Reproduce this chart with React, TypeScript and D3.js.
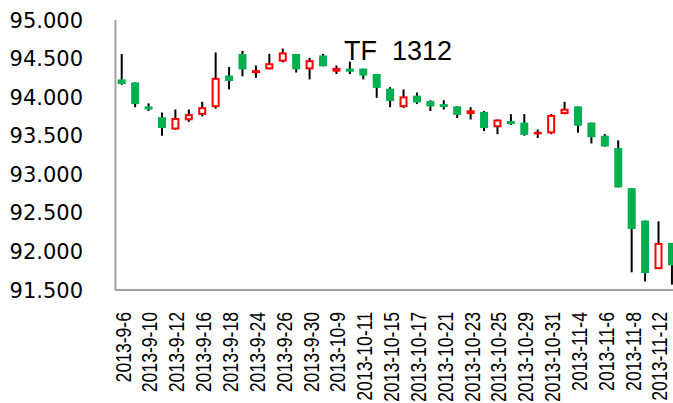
import React from "react";
import * as d3 from "d3";

const dates = [
  "2013-9-6", "2013-9-9", "2013-9-10", "2013-9-11", "2013-9-12", "2013-9-13",
  "2013-9-16", "2013-9-17", "2013-9-18", "2013-9-23", "2013-9-24", "2013-9-25",
  "2013-9-26", "2013-9-27", "2013-9-30", "2013-10-8", "2013-10-9", "2013-10-10",
  "2013-10-11", "2013-10-14", "2013-10-15", "2013-10-16", "2013-10-17", "2013-10-18",
  "2013-10-21", "2013-10-22", "2013-10-23", "2013-10-24", "2013-10-25", "2013-10-28",
  "2013-10-29", "2013-10-30", "2013-10-31", "2013-11-1", "2013-11-4", "2013-11-5",
  "2013-11-6", "2013-11-7", "2013-11-8", "2013-11-11", "2013-11-12", "2013-11-13",
];

const open = [
  94.23, 94.19, 93.88, 93.74, 93.58, 93.7, 93.77, 93.87, 94.28, 94.56, 94.31, 94.36,
  94.46, 94.56, 94.36, 94.54, 94.33, 94.37, 94.37, 94.3, 94.11, 93.87, 94.02, 93.95,
  93.91, 93.88, 93.78, 93.81, 93.61, 93.69, 93.67, 93.52, 93.53, 93.78, 93.88, 93.67,
  93.5, 93.34, 92.82, 92.4, 91.77, 92.11,
];
const high = [
  94.56, 94.19, 93.92, 93.8, 93.84, 93.84, 93.94, 94.58, 94.39, 94.6, 94.41, 94.56,
  94.63, 94.56, 94.51, 94.56, 94.41, 94.46, 94.37, 94.3, 94.13, 94.1, 94.06, 93.96,
  93.96, 93.88, 93.87, 93.82, 93.71, 93.78, 93.78, 93.58, 93.78, 93.94, 93.88, 93.67,
  93.52, 93.44, 92.82, 92.4, 92.39, 92.11,
];
const low = [
  94.16, 93.87, 93.82, 93.5, 93.58, 93.68, 93.75, 93.85, 94.1, 94.27, 94.25, 94.36,
  94.45, 94.32, 94.23, 94.4, 94.3, 94.3, 94.23, 93.99, 93.87, 93.86, 93.91, 93.82,
  93.84, 93.73, 93.71, 93.56, 93.52, 93.64, 93.5, 93.47, 93.52, 93.78, 93.54, 93.4,
  93.36, 92.83, 91.73, 91.61, 91.77, 91.57,
];
const close = [
  94.17, 93.91, 93.84, 93.6, 93.73, 93.78, 93.87, 94.25, 94.21, 94.36, 94.35, 94.44,
  94.58, 94.36, 94.48, 94.4, 94.38, 94.33, 94.28, 94.12, 93.95, 94.01, 93.93, 93.88,
  93.87, 93.77, 93.83, 93.6, 93.71, 93.65, 93.51, 93.55, 93.77, 93.85, 93.63, 93.48,
  93.36, 92.83, 92.29, 91.72, 92.11, 91.82,
];

const yTicks = [91.5, 92, 92.5, 93, 93.5, 94, 94.5, 95];
const title = "TF  1312";

const UP = "#FF0000";
const DOWN = "#00B050";
const AXIS = "#A0A0A0";

export default function App() {
  const width = 673;
  const height = 403;
  const left = 115;
  const bw = 13.42;

  const idx = dates.map((_, i) => i);
  const x = d3
    .scaleBand<number>()
    .domain(idx)
    .range([left, left + bw * dates.length])
    .padding(0);
  const y = d3.scaleLinear().domain([91.5, 95]).range([290, 20]);
  const fmt = d3.format(".3f");

  const bodyW = 8;

  return (
    <svg
      width={width}
      height={height}
      style={{ position: "absolute", left: 0, top: 0, background: "#fff" }}
    >
      {/* axes */}
      <line x1={left + 0.5} x2={left + 0.5} y1={y(95)} y2={y(91.5)} stroke={AXIS} strokeWidth={2} />
      <line x1={left} x2={width} y1={y(91.5)} y2={y(91.5)} stroke={AXIS} strokeWidth={2} />

      {yTicks.map((t) => (
        <text
          key={t}
          x={83}
          y={y(t)}
          dy="0.36em"
          textAnchor="end"
          fontFamily="DejaVu Sans"
          fontSize={21}
          fill="#000"
        >
          {fmt(t)}
        </text>
      ))}

      {dates.map((d, i) =>
        i % 2 === 0 ? (
          <text
            key={d}
            transform={`translate(${x(i)! + bw / 2 + 1},312) rotate(-90) scale(0.8,1)`}
            dy="0.36em"
            textAnchor="end"
            fontFamily="Liberation Sans"
            fontSize={22}
            fill="#000"
          >
            {d}
          </text>
        ) : null
      )}

      {idx.map((i) => {
        const cx = x(i)! + bw / 2;
        const up = close[i] >= open[i];
        const top = y(Math.max(open[i], close[i]));
        const bot = y(Math.min(open[i], close[i]));
        return (
          <g key={i}>
            <line x1={cx} x2={cx} y1={y(high[i])} y2={y(low[i])} stroke="#000" strokeWidth={2} />
            {up ? (
              <rect
                x={cx - bodyW / 2 + 1}
                y={top + 1}
                width={bodyW - 2}
                height={Math.max(bot - top - 2, 0.5)}
                fill="#fff"
                stroke={UP}
                strokeWidth={2}
              />
            ) : (
              <rect
                x={cx - bodyW / 2}
                y={top}
                width={bodyW}
                height={Math.max(bot - top, 2)}
                fill={DOWN}
              />
            )}
          </g>
        );
      })}

      <text
        x={344}
        y={59.5}
        fontFamily="Liberation Sans"
        fontSize={27}
        fill="#000"
        style={{ whiteSpace: "pre" }}
      >
        {title}
      </text>
    </svg>
  );
}
